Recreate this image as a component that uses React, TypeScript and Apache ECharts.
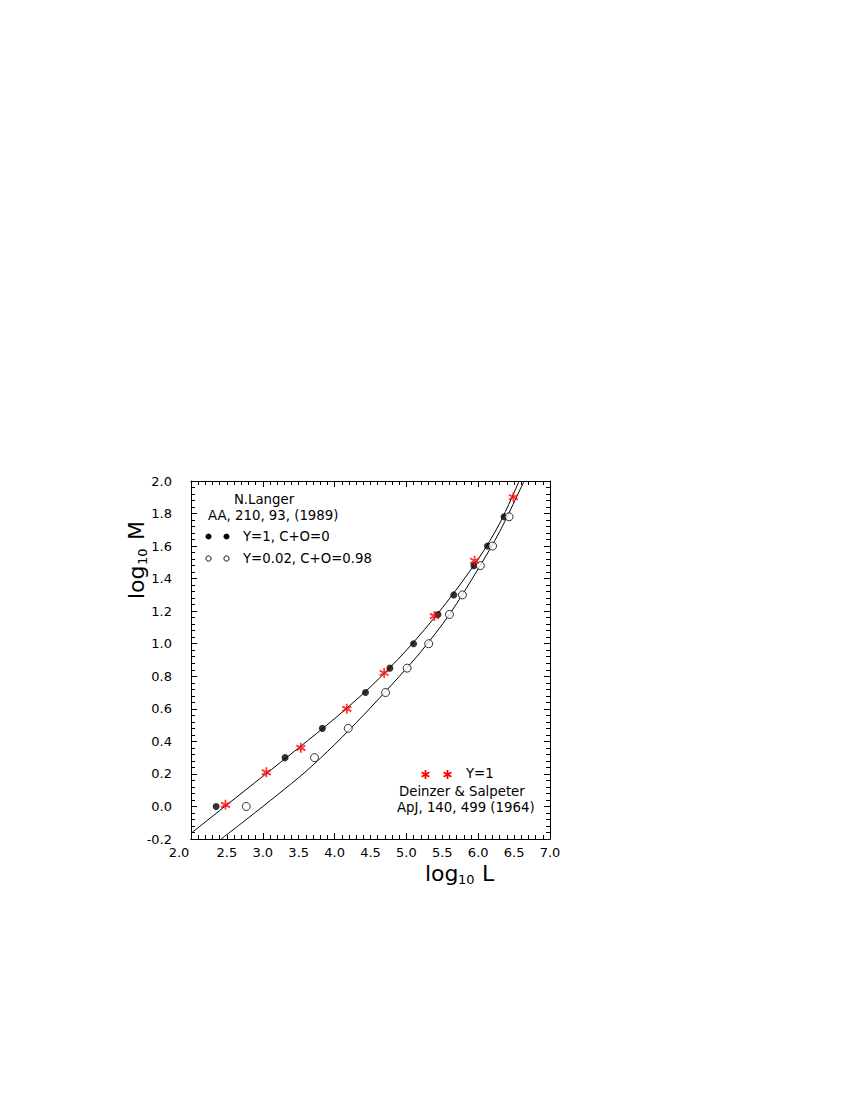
import React, { useEffect, useRef } from "react";
import * as echarts from "echarts";

// Langer (1989): Y=1, C+O=0 (filled circles)
const filledX = [2.35, 3.31, 3.83, 4.43, 4.77, 5.10, 5.44, 5.66, 5.94, 6.13, 6.36];
const filledY = [0.00, 0.30, 0.48, 0.70, 0.85, 1.00, 1.18, 1.30, 1.48, 1.60, 1.78];
// Langer (1989): Y=0.02, C+O=0.98 (open circles)
const openX = [2.77, 3.72, 4.19, 4.71, 5.01, 5.31, 5.60, 5.78, 6.03, 6.20, 6.43];
const openY = [0.00, 0.30, 0.48, 0.70, 0.85, 1.00, 1.18, 1.30, 1.48, 1.60, 1.78];
// Deinzer & Salpeter (1964): Y=1 (red asterisks)
const starX = [2.48, 3.05, 3.53, 4.17, 4.69, 5.39, 5.95, 6.49];
const starY = [0.01, 0.21, 0.36, 0.60, 0.82, 1.17, 1.51, 1.90];
// fitted curves
const upperX = [2.0, 2.5, 3.0, 3.5, 4.0, 4.5, 5.0, 5.5, 6.0, 6.3, 6.57];
const upperY = [-0.165, 0.01, 0.185, 0.36, 0.54, 0.735, 0.96, 1.22, 1.52, 1.74, 2.0];
const lowerX = [2.42, 2.8, 3.2, 3.6, 4.0, 4.4, 4.8, 5.2, 5.6, 6.0, 6.3, 6.64];
const lowerY = [-0.2, -0.07, 0.07, 0.215, 0.38, 0.56, 0.75, 0.95, 1.18, 1.46, 1.69, 2.0];

const FONT = '"DejaVu Sans", sans-serif';
const ANN = 13.3;
const TICK = 13;

const zip = (xs: number[], ys: number[]) => xs.map((x, i) => [x, ys[i]]);

const STAR_D = "M0,-4.5 L0,4.5 M-3.9,-2.25 L3.9,2.25 M-3.9,2.25 L3.9,-2.25";
const STAR_SYMBOL = "path://M5,0 L5,10 M0.67,2.5 L9.33,7.5 M0.67,7.5 L9.33,2.5";

let registered = false;

function txt(text: string, x: number, y: number, align = "left", size = ANN) {
  return {
    type: "text",
    style: {
      text,
      x,
      y,
      fontSize: size,
      fontFamily: FONT,
      fill: "#000",
      align,
      verticalAlign: "middle",
      textAlign: align,
      textVerticalAlign: "middle",
    },
  };
}

export default function App() {
  const ref = useRef<HTMLDivElement>(null);
  useEffect(() => {
    if (!ref.current) return;
    if (!registered) {
      echarts.graphic.registerShape("asterisk", echarts.graphic.extendPath(STAR_D, {}));
      registered = true;
    }
    const chart = echarts.init(ref.current, null, { renderer: "svg" });
    const axisLineStyle = { color: "#000", width: 1 };
    const tickX = {
      type: "value",
      min: 2,
      max: 7,
      interval: 1,
      axisLine: { show: true, onZero: false, lineStyle: axisLineStyle },
      axisTick: { show: true, inside: true, length: 6, lineStyle: { color: "#000" } },
      minorTick: { show: true, splitNumber: 10, length: 4, lineStyle: { color: "#000" } },
      axisLabel: { show: false },
      splitLine: { show: false },
    };
    const yBase = {
      type: "value",
      min: -0.2,
      max: 2.0,
      interval: 0.2,
      axisLine: { show: true, onZero: false, lineStyle: axisLineStyle },
      axisTick: { show: true, inside: true, length: 6, lineStyle: { color: "#000" } },
      minorTick: { show: true, splitNumber: 5, length: 4, lineStyle: { color: "#000" } },
      splitLine: { show: false },
    };
    const option: any = {
      animation: false,
      backgroundColor: "#fff",
      grid: { left: 191, top: 481, width: 359, height: 358, containLabel: false },
      xAxis: [
        {
          type: "value",
          position: "bottom",
          min: 2,
          max: 7,
          interval: 0.5,
          axisLine: { show: true, onZero: false, lineStyle: axisLineStyle },
          axisTick: { show: false },
          splitLine: { show: false },
          axisLabel: {
            margin: 7,
            color: "#000",
            fontFamily: FONT,
            fontSize: TICK,
            showMinLabel: true,
            showMaxLabel: true,
            formatter: (v: number) => (Math.abs(v - 2) < 1e-9 ? "{s|2.0}" : v.toFixed(1)),
            rich: {
              s: { fontFamily: FONT, fontSize: TICK, color: "#000", padding: [0, 24, 0, 0] },
            },
          },
        },
        { ...tickX, position: "bottom" },
        { ...tickX, position: "top" },
      ],
      yAxis: [
        {
          ...yBase,
          position: "left",
          axisLabel: {
            margin: 19,
            color: "#000",
            fontFamily: FONT,
            fontSize: TICK,
            showMinLabel: true,
            showMaxLabel: true,
            formatter: (v: number) => v.toFixed(1),
          },
        },
        { ...yBase, position: "right", axisLabel: { show: false } },
      ],
      series: [
        {
          type: "line",
          data: zip(upperX, upperY),
          symbol: "none",
          smooth: 0.3,
          lineStyle: { color: "#000", width: 1 },
          z: 1,
        },
        {
          type: "line",
          data: zip(lowerX, lowerY),
          symbol: "none",
          smooth: 0.3,
          lineStyle: { color: "#000", width: 1 },
          z: 1,
        },
        {
          type: "scatter",
          data: zip(filledX, filledY),
          symbol: "circle",
          symbolSize: 7,
          itemStyle: { color: "#000" },
          z: 3,
        },
        {
          type: "scatter",
          data: zip(openX, openY),
          symbol: "circle",
          symbolSize: 8,
          itemStyle: { color: "#fff", borderColor: "#000", borderWidth: 1 },
          z: 3,
        },
        {
          type: "scatter",
          data: zip(starX, starY),
          symbol: STAR_SYMBOL,
          symbolSize: [9, 10],
          itemStyle: { color: "#ff0000", borderColor: "#ff0000", borderWidth: 1.8 },
          z: 4,
        },
      ],
      graphic: [
        txt("N.Langer", 264, 499, "center"),
        txt("AA, 210, 93, (1989)", 208, 515),
        { type: "circle", shape: { cx: 208.5, cy: 536.5, r: 3 }, style: { fill: "#000" } },
        { type: "circle", shape: { cx: 226.5, cy: 536.5, r: 3 }, style: { fill: "#000" } },
        txt("Y=1, C+O=0", 243, 536),
        { type: "circle", shape: { cx: 208.5, cy: 558.5, r: 2.6 }, style: { fill: "#fff", stroke: "#000", lineWidth: 1 } },
        { type: "circle", shape: { cx: 226.5, cy: 558.5, r: 2.6 }, style: { fill: "#fff", stroke: "#000", lineWidth: 1 } },
        txt("Y=0.02, C+O=0.98", 243, 558),
        { type: "asterisk", x: 425.5, y: 774.5, style: { fill: "none", stroke: "#ff0000", lineWidth: 1.8 } },
        { type: "asterisk", x: 447.5, y: 774.5, style: { fill: "none", stroke: "#ff0000", lineWidth: 1.8 } },
        txt("Y=1", 466, 773),
        txt("Deinzer & Salpeter", 399, 791),
        txt("ApJ, 140, 499 (1964)", 397, 807),
        // x axis title
        txt("log", 425, 873, "left", 22),
        txt("10", 458, 879, "left", 13),
        txt("L", 482, 873, "left", 22),
        // y axis title (rotated)
        {
          type: "group",
          x: 136,
          y: 560,
          rotation: Math.PI / 2,
          children: [
            txt("log", -39, 0, "left", 22),
            txt("10", -5, 6, "left", 13),
            txt("M", 20, 0, "left", 22),
          ],
        },
      ],
    };
    chart.setOption(option);
    return () => chart.dispose();
  }, []);
  return (
    <div
      ref={ref}
      style={{ position: "fixed", left: 0, top: 0, width: 850, height: 1100, background: "#fff" }}
    />
  );
}
